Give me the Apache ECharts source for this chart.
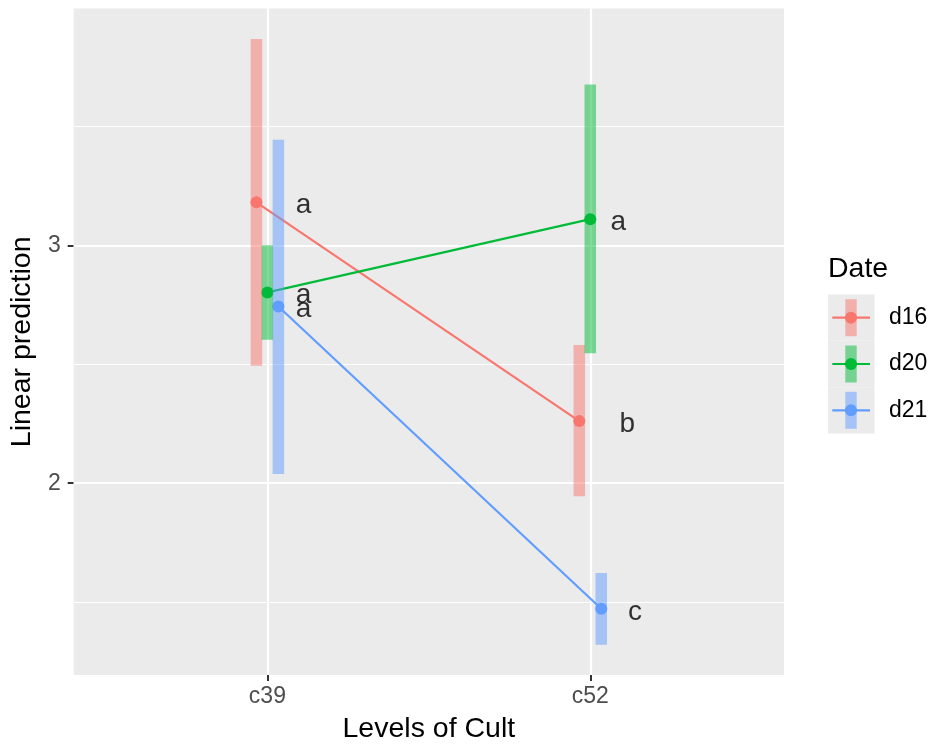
<!DOCTYPE html>
<html>
<head>
<meta charset="utf-8">
<script src="https://cdn.jsdelivr.net/npm/echarts@6/dist/echarts.min.js"></script>
<style>
  html, body { margin: 0; padding: 0; background: #ffffff; }
  #chart { width: 934px; height: 749px; }
</style>
</head>
<body>
<div id="chart"></div>
<script>
// Levels of Cult on x, one trace per Date
const categories = ['c39', 'c52'];
const groups = ['d16', 'd20', 'd21'];

const d16Estimate = [3.181, 2.261];
const d16Lower = [2.494, 1.945];
const d16Upper = [3.868, 2.581];
const d16Letters = ['a', 'b'];

const d20Estimate = [2.802, 3.110];
const d20Lower = [2.603, 2.546];
const d20Upper = [3.000, 3.676];
const d20Letters = ['a', 'a'];

const d21Estimate = [2.743, 1.472];
const d21Lower = [2.039, 1.321];
const d21Upper = [3.444, 1.622];
const d21Letters = ['a', 'c'];

const yTickValues = [2, 3];
const yGridMajor = [2, 3];
const yGridMinor = [1.5, 2.5, 3.5];

// ---- styling / layout ----
const colors = ['#F8766D', '#00BA38', '#619CFF'];
const FONT = '"Liberation Sans", Arial, Helvetica, sans-serif';
const DODGE = 0.034;            // horizontal dodge between dates (x units)
const dodgeOffsets = [-DODGE, 0, DODGE];
const labelNudge = [            // letter offsets from category centre (x units)
  [0.1115, 0.1146],
  [0.1115, 0.0867],
  [0.1115, 0.1384]
];
const BAR_PX = 11.5;

const table = [
  { name: groups[0], est: d16Estimate, lo: d16Lower, hi: d16Upper, letters: d16Letters },
  { name: groups[1], est: d20Estimate, lo: d20Lower, hi: d20Upper, letters: d20Letters },
  { name: groups[2], est: d21Estimate, lo: d21Lower, hi: d21Upper, letters: d21Letters }
];

// y extent with 5% padding around all intervals
const allLo = Math.min(...table.flatMap(g => g.lo));
const allHi = Math.max(...table.flatMap(g => g.hi));
const pad = (allHi - allLo) * 0.05;
const yMin = allLo - pad;
const yMax = allHi + pad;

function hexToRgba(hex, a) {
  const n = parseInt(hex.slice(1), 16);
  return 'rgba(' + ((n >> 16) & 255) + ',' + ((n >> 8) & 255) + ',' + (n & 255) + ',' + a + ')';
}

const series = [];

// panel grid lines (kept beneath every mark)
series.push({
  type: 'line',
  data: [],
  z: 1,
  silent: true,
  markLine: {
    silent: true,
    z: 1,
    symbol: ['none', 'none'],
    label: { show: false },
    animation: false,
    data: [
      ...yGridMinor.map(v => ({ yAxis: v, lineStyle: { color: '#ffffff', width: 1.1, type: 'solid' } })),
      ...yGridMajor.map(v => ({ yAxis: v, lineStyle: { color: '#ffffff', width: 2.2, type: 'solid' } })),
      ...categories.map((c, i) => ({ xAxis: i + 1, lineStyle: { color: '#ffffff', width: 2.2, type: 'solid' } }))
    ]
  }
});

// connecting lines + points
table.forEach((g, gi) => {
  series.push({
    name: g.name,
    type: 'line',
    z: 10,
    data: categories.map((c, ci) => [ci + 1 + dodgeOffsets[gi], g.est[ci]]),
    symbol: 'circle',
    symbolSize: 12,
    showSymbol: true,
    lineStyle: { color: colors[gi], width: 2.2 },
    itemStyle: { color: colors[gi] },
    emphasis: { disabled: true }
  });
});

// confidence intervals as translucent bars
table.forEach((g, gi) => {
  series.push({
    name: g.name + ' CI',
    type: 'custom',
    z: 11,
    data: categories.map((c, ci) => [ci + 1 + dodgeOffsets[gi], g.lo[ci], g.hi[ci]]),
    encode: { x: 0, y: [1, 2] },
    renderItem: function (params, api) {
      const x = api.value(0);
      const pLo = api.coord([x, api.value(1)]);
      const pHi = api.coord([x, api.value(2)]);
      return {
        type: 'rect',
        shape: { x: pLo[0] - BAR_PX / 2, y: pHi[1], width: BAR_PX, height: pLo[1] - pHi[1] },
        style: { fill: hexToRgba(colors[gi], 0.5) }
      };
    }
  });
});

// compact letter display
table.forEach((g, gi) => {
  series.push({
    name: g.name + ' letters',
    type: 'scatter',
    z: 12,
    symbolSize: 1,
    itemStyle: { color: 'rgba(0,0,0,0)' },
    data: categories.map((c, ci) => ({
      value: [ci + 1 + labelNudge[gi][ci], g.est[ci]],
      letter: g.letters[ci]
    })),
    label: {
      show: true,
      position: 'inside',
      offset: [0, 3],
      formatter: p => p.data.letter,
      color: '#000000',
      fontSize: 28,
      fontFamily: FONT
    },
    emphasis: { disabled: true }
  });
});

// legend drawn as graphic keys
const legendGraphics = [];
const legendLeft = 828;
const keyW = 46.5;
const keyH = 46.3;
const firstRowCenter = 317.7;
legendGraphics.push({
  type: 'text',
  x: legendLeft,
  y: 269.5,
  style: { text: 'Date', fill: '#000000', font: '28.5px ' + FONT, verticalAlign: 'middle', align: 'left' }
});
groups.forEach((name, gi) => {
  const cy = firstRowCenter + gi * keyH;
  legendGraphics.push({
    type: 'rect',
    shape: { x: legendLeft, y: cy - keyH / 2, width: keyW, height: keyH },
    style: { fill: '#EBEBEB' }
  });
  legendGraphics.push({
    type: 'line',
    shape: { x1: legendLeft + 4.3, y1: cy, x2: legendLeft + 42, y2: cy },
    style: { stroke: colors[gi], lineWidth: 2.2 }
  });
  legendGraphics.push({
    type: 'circle',
    shape: { cx: legendLeft + 23, cy: cy, r: 6 },
    style: { fill: colors[gi] }
  });
  legendGraphics.push({
    type: 'rect',
    shape: { x: legendLeft + 23 - 5.7, y: cy - 18.5, width: 11.4, height: 37 },
    style: { fill: hexToRgba(colors[gi], 0.5) }
  });
  legendGraphics.push({
    type: 'text',
    x: legendLeft + 61,
    y: cy,
    style: { text: name, fill: '#000000', font: '23px ' + FONT, verticalAlign: 'middle', align: 'left' }
  });
});

const chart = echarts.init(document.getElementById('chart'), null, { renderer: 'canvas' });
chart.setOption({
  animation: false,
  backgroundColor: '#ffffff',
  textStyle: { fontFamily: FONT },
  grid: {
    left: 73.5, right: 150, top: 8.6, bottom: 71.5,
    show: true, backgroundColor: '#EBEBEB', borderWidth: 0
  },
  xAxis: {
    type: 'value',
    min: 0.4,
    max: 2.6,
    axisLine: { show: false },
    axisTick: { show: true, customValues: [1, 2], length: 6, lineStyle: { color: '#333333', width: 2 } },
    axisLabel: {
      customValues: [1, 2],
      formatter: v => categories[Math.round(v) - 1],
      color: '#4D4D4D', fontSize: 23, margin: 10, fontFamily: FONT
    },
    splitLine: { show: false },
    name: 'Levels of Cult',
    nameLocation: 'middle',
    nameGap: 40,
    nameTextStyle: { color: '#000000', fontSize: 28.5, fontFamily: FONT }
  },
  yAxis: {
    type: 'value',
    min: yMin,
    max: yMax,
    axisLine: { show: false },
    axisTick: { show: true, customValues: yTickValues, length: 6, lineStyle: { color: '#333333', width: 2 } },
    axisLabel: {
      customValues: yTickValues,
      color: '#4D4D4D', fontSize: 23, margin: 13, fontFamily: FONT
    },
    splitLine: { show: false },
    name: 'Linear prediction',
    nameLocation: 'middle',
    nameRotate: 90,
    nameGap: 28,
    nameTextStyle: { color: '#000000', fontSize: 28.5, fontFamily: FONT }
  },
  graphic: legendGraphics,
  series: series
});
</script>
</body>
</html>
